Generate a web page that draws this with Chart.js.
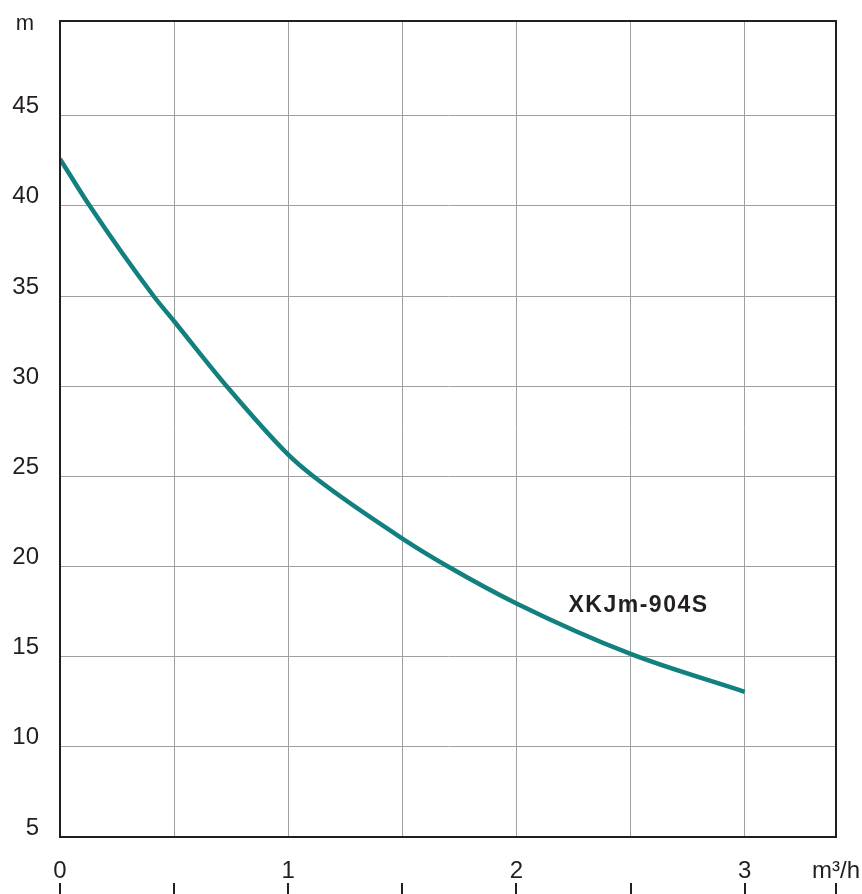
<!DOCTYPE html>
<html>
<head>
<meta charset="utf-8">
<script src="https://cdn.jsdelivr.net/npm/chart.js@4"></script>
<style>
    html, body { margin: 0; padding: 0; background: #fff; }
    #wrap { width: 862px; height: 894px; position: relative; }
</style>
</head>
<body>
<div id="wrap"><canvas id="pumpCurve"></canvas></div>
<script>
// Pump curve data (flow m3/h -> head m)
const flowRates = [0, 0.13, 0.41, 0.5, 0.73, 1.0, 1.11, 1.5, 1.7, 2.0, 2.5, 3.0];
const heads = [42.6, 40, 35, 33.6, 30, 26.2, 25, 21.55, 20, 17.95, 15.15, 13.05];

const xTicks = [0, 0.5, 1, 1.5, 2, 2.5, 3, 3.4];
const yTicks = [5, 10, 15, 20, 25, 30, 35, 40, 45];
const xUnit = 'm³/h';
const yUnit = 'm';
const modelName = 'XKJm-904S';

const FONT = "Arial, 'Liberation Sans', sans-serif";
const INK = '#231f20';

// Frame, tick marks under the labels, unit and model labels
const decorations = {
    id: 'decorations',
    afterDraw(chart) {
        const { ctx, chartArea, scales } = chart;
        ctx.save();

        ctx.strokeStyle = INK;
        ctx.lineWidth = 2;
        ctx.strokeRect(chartArea.left, chartArea.top, chartArea.right - chartArea.left, chartArea.bottom - chartArea.top);

        // small marks below the x labels
        xTicks.forEach(v => {
            const x = Math.round(scales.x.getPixelForValue(v));
            ctx.beginPath();
            ctx.moveTo(x, 883);
            ctx.lineTo(x, 894);
            ctx.stroke();
        });

        ctx.fillStyle = INK;
        ctx.font = '22px ' + FONT;
        ctx.textAlign = 'center';
        ctx.textBaseline = 'alphabetic';
        ctx.fillText(yUnit, 25, 30);

        ctx.font = 'bold 23px ' + FONT;
        ctx.letterSpacing = '1.5px';
        ctx.textAlign = 'left';
        ctx.fillText(modelName, scales.x.getPixelForValue(2.228), scales.y.getPixelForValue(17.47));

        ctx.restore();
    }
};

const noPad = (axis) => {
    axis.paddingTop = 0;
    axis.paddingBottom = 0;
    axis.paddingLeft = 0;
    axis.paddingRight = 0;
};

const ctx = document.getElementById('pumpCurve').getContext('2d');
new Chart(ctx, {
    type: 'line',
    data: {
        datasets: [{
            data: flowRates.map((f, i) => ({ x: f, y: heads[i] })),
            borderColor: '#11807f',
            borderWidth: 4.5,
            pointRadius: 0,
            cubicInterpolationMode: 'monotone',
            fill: false
        }]
    },
    options: {
        responsive: true,
        maintainAspectRatio: false,
        animation: false,
        layout: { padding: { left: 0, right: 26, top: 21, bottom: 0 } },
        plugins: {
            legend: { display: false },
            tooltip: { enabled: false }
        },
        scales: {
            x: {
                type: 'linear',
                min: 0,
                max: 3.4,
                afterBuildTicks: (axis) => { axis.ticks = xTicks.map(v => ({ value: v })); },
                afterFit: (axis) => { axis.height = 57; noPad(axis); },
                grid: { color: '#a0a0a0', lineWidth: 1, drawTicks: false },
                border: { color: INK, width: 2 },
                ticks: {
                    padding: 20,
                    color: INK,
                    font: { family: FONT, size: 24 },
                    maxRotation: 0,
                    autoSkip: false,
                    callback: (v) => v === 3.4 ? xUnit : (Number.isInteger(v) ? String(v) : '')
                }
            },
            y: {
                type: 'linear',
                min: 5,
                max: 50.25,
                afterBuildTicks: (axis) => { axis.ticks = yTicks.map(v => ({ value: v })); },
                afterFit: (axis) => { axis.width = 60; noPad(axis); },
                grid: { color: '#a0a0a0', lineWidth: 1, drawTicks: false },
                border: { color: INK, width: 2 },
                ticks: {
                    padding: 21,
                    labelOffset: -9,
                    color: INK,
                    font: { family: FONT, size: 24 },
                    callback: (v) => String(v)
                }
            }
        }
    },
    plugins: [decorations]
});
</script>
</body>
</html>
